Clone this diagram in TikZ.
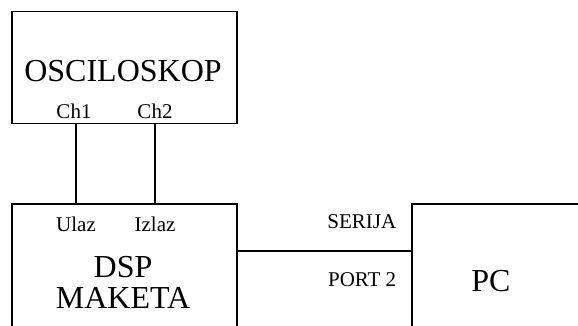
\documentclass[tikz,border=0pt]{standalone}
\usepackage{fontspec}
\setmainfont{Liberation Serif}
\usetikzlibrary{positioning}

\begin{document}
\begin{tikzpicture}[x=1pt,y=-1pt,line width=1.5pt,
  box/.style={draw,rectangle,inner sep=0pt,anchor=north west},
  bigtext/.style={font=\fontsize{32}{31}\selectfont,inner sep=0pt},
  smalltext/.style={font=\fontsize{21}{21}\selectfont,inner sep=0pt,anchor=base}]
 \useasboundingbox (0,0) rectangle (578,326);
 \clip (0,0) rectangle (578,326);
 % blocks
 \node[box,minimum width=225pt,minimum height=112pt] (osc) at (11,11) {};
 \node[box,minimum width=225pt,minimum height=160pt] (dsp) at (11,203) {};
 \node[box,minimum width=200pt,minimum height=160pt] (pc) at (411,203) {};
 % texts
 \node[bigtext,anchor=base] (osctext) at (123,82) {OSCILOSKOP};
 \node[smalltext] (ch1) at (74,119) {Ch1};
 \node[smalltext] (ch2) at (155,119) {Ch2};
 \node[smalltext] (ulaz) at (76,231.5) {Ulaz};
 \node[smalltext] (izlaz) at (155,231.5) {Izlaz};
 \node[bigtext,align=center,anchor=base] (dsptext) at (123,308) {DSP\\MAKETA};
 \node[smalltext,anchor=base east] (serija) at (397,228) {SERIJA};
 \node[smalltext,anchor=base east] (port) at (397,286) {PORT 2};
 \node[bigtext,anchor=base] (pctext) at (491,291.5) {PC};
 % connections
 \coordinate (serial) at (0,251);
 \draw (osc.south -| ulaz) -- (dsp.north -| ulaz);
 \draw (osc.south -| izlaz) -- (dsp.north -| izlaz);
 \draw (dsp.east |- serial) -- (pc.west |- serial);
\end{tikzpicture}
\end{document}
